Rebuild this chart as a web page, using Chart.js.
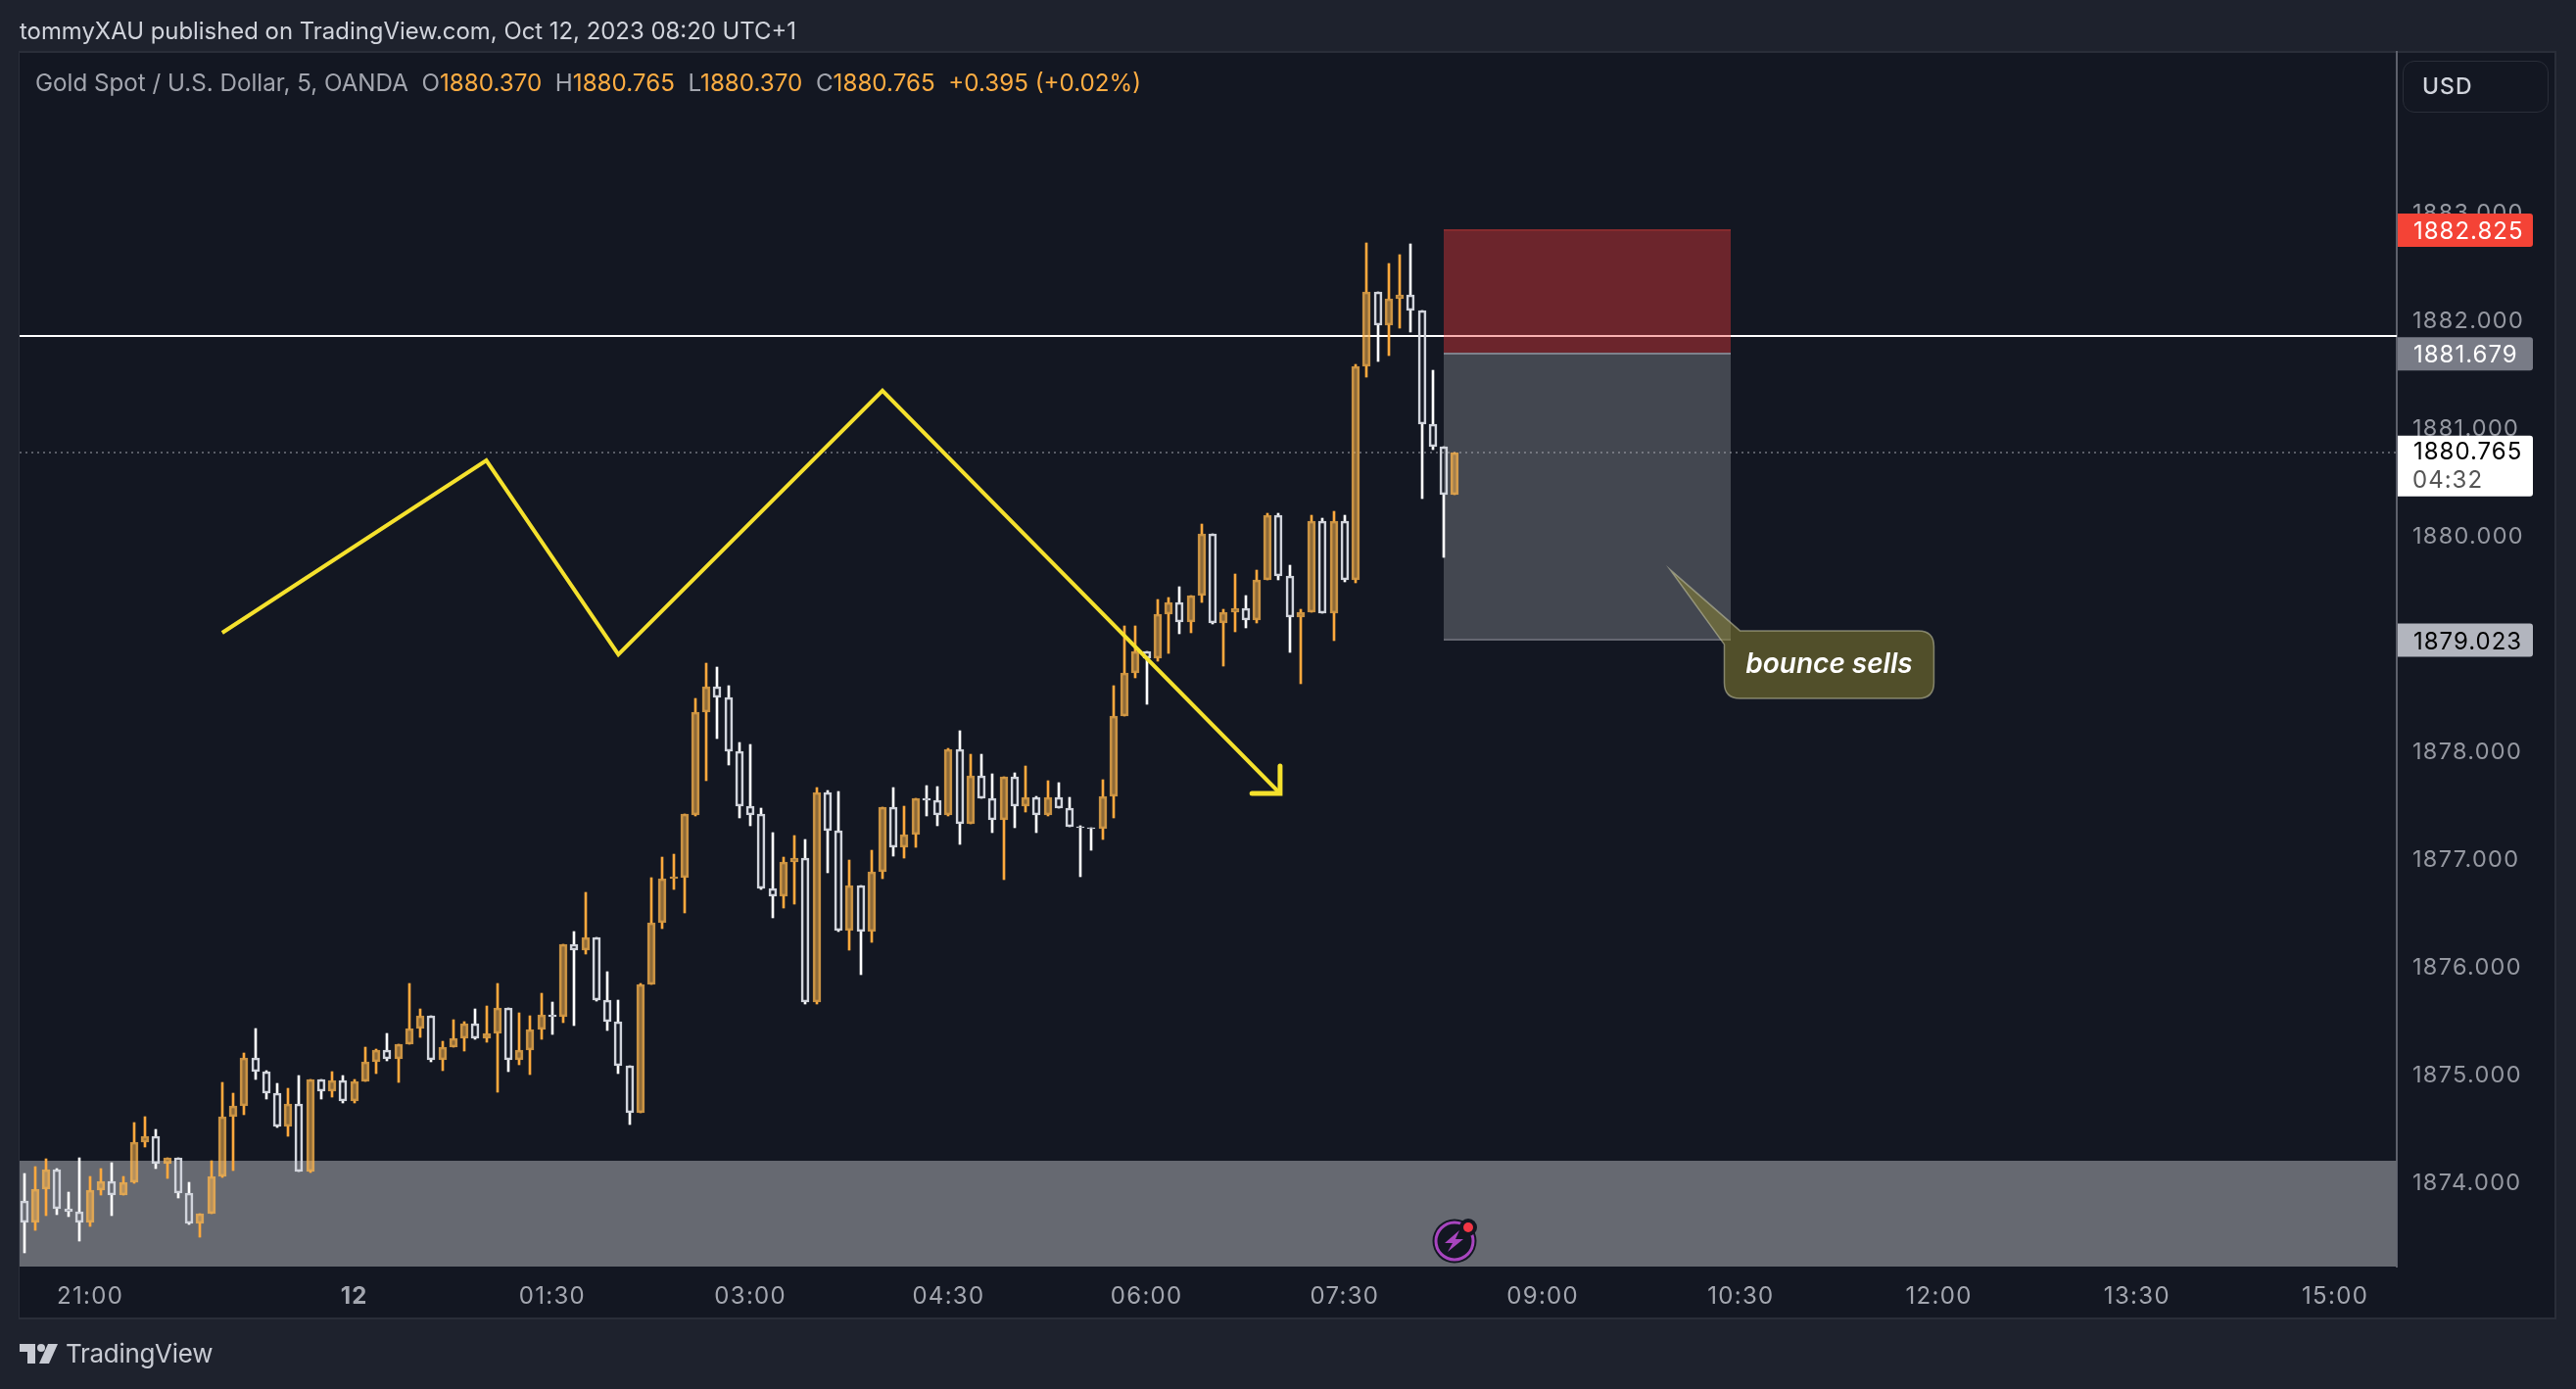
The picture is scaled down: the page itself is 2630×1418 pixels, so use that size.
<!DOCTYPE html>
<html>
<head>
<meta charset="utf-8">
<title>Gold Spot / U.S. Dollar</title>
<script src="https://cdn.jsdelivr.net/npm/chart.js@4"></script>
<style>
	html, body { margin: 0; width: 2630px; height: 1418px; background: #1e222d; overflow: hidden; font-family: Inter, sans-serif; }
	#panel { position: absolute; left: 19px; top: 52px; width: 2588px; height: 1291px; background: #131722; border: 2px solid #2a2e39; border-left-width: 1px; }
	#chart { position: absolute; left: 0; top: 0; }
	.txt { position: absolute; white-space: pre; }
	#title { left: 20px; top: 17px; font-size: 23.9px; line-height: 30px; color: #d1d4dc; }
	#legend { left: 36px; top: 70px; font-size: 24.2px; line-height: 30px; color: #a3a6af; }
	#legend b { font-weight: 400; color: #ffad42; }
	#usd { left: 2453px; top: 62px; width: 128px; height: 51px; padding-left: 19px; border: 1px solid #2a2e39; border-radius: 12px; font-size: 23px; letter-spacing: 1px; line-height: 50px; font-weight: 500; color: #d1d4dc; }
	#brand { left: 67px; top: 1365px; font-size: 26px; line-height: 34px; color: #c8cbd3; letter-spacing: -0.3px; }
	svg { position: absolute; }
</style>
</head>
<body>
<div id="panel"></div>
<canvas id="chart" width="2630" height="1418"></canvas>
<div class="txt" id="title">tommyXAU published on TradingView.com, Oct 12, 2023 08:20 UTC+1</div>
<div class="txt" id="legend">Gold Spot / U.S. Dollar, 5, OANDA  O<b>1880.370</b>  H<b>1880.765</b>  L<b>1880.370</b>  C<b>1880.765</b>  <b>+0.395 (+0.02%)</b></div>
<div class="txt" id="usd">USD</div>
<div class="txt" id="brand">TradingView</div>
<svg style="left:20px;top:1372px" width="40" height="21" viewBox="0 0 40 21">
	<path fill="#c8cbd3" d="M0 0H16V20H8V8H0Z"/>
	<circle fill="#c8cbd3" cx="22" cy="4" r="4"/>
	<path fill="#c8cbd3" d="M29 0H39L30 20H20Z"/>
</svg>
<svg style="left:1461px;top:1228px" width="60" height="64" viewBox="0 0 60 64">
	<circle cx="24" cy="39" r="22.5" fill="#131722"/>
	<circle cx="24" cy="39" r="19" fill="none" stroke="#a845bf" stroke-width="3"/>
	<path fill="#a845bf" d="M29 28L14 41H22L17 50L33 37H25Z"/>
	<circle cx="38" cy="25" r="9" fill="#131722"/>
	<circle cx="38" cy="25" r="5" fill="#f23645"/>
</svg>
<script>
const opens = [
	1873.82,1873.62,1873.93,1874.11,1873.75,1873.72,1873.62,1873.92,1874.00,1873.87,
	1873.99,1874.36,1874.42,1874.16,1874.22,1873.89,1873.61,1873.70,1874.05,1874.60,
	1874.70,1875.15,1875.02,1874.82,1874.51,1874.72,1874.09,1874.95,1874.84,1874.94,
	1874.75,1874.93,1875.11,1875.22,1875.14,1875.27,1875.42,1875.54,1875.13,1875.25,
	1875.33,1875.46,1875.33,1875.37,1875.61,1875.13,1875.22,1875.41,1875.55,1875.53,
	1876.20,1876.15,1876.26,1875.68,1875.48,1875.07,1874.64,1875.83,1876.40,1876.81,
	1876.82,1877.40,1878.35,1878.59,1878.49,1877.99,1877.48,1877.41,1876.72,1876.65,
	1876.96,1877.00,1875.66,1877.61,1877.25,1876.33,1876.75,1876.32,1876.87,1877.47,
	1877.10,1877.22,1877.55,1877.54,1877.40,1878.01,1877.32,1877.76,1877.55,1877.35,
	1877.75,1877.48,1877.56,1877.40,1877.56,1877.46,1877.29,1877.28,1877.27,1877.57,
	1878.32,1878.72,1878.92,1878.85,1879.26,1879.37,1879.19,1879.44,1880.01,1879.18,
	1879.28,1879.32,1879.21,1879.58,1880.18,1879.62,1879.24,1879.28,1880.13,1879.27,
	1880.13,1879.58,1881.56,1882.25,1881.94,1882.19,1882.23,1882.08,1881.03,1880.82,1880.37
]
const highs = [
	1874.07,1874.14,1874.21,1874.12,1873.90,1874.22,1874.05,1874.12,1874.17,1874.05,
	1874.55,1874.60,1874.48,1874.22,1874.22,1873.99,1873.70,1874.19,1874.92,1874.82,
	1875.19,1875.42,1875.03,1874.91,1874.86,1874.98,1874.95,1874.95,1875.02,1874.98,
	1874.95,1875.25,1875.23,1875.37,1875.27,1875.84,1875.60,1875.54,1875.30,1875.50,
	1875.48,1875.60,1875.63,1875.84,1875.61,1875.56,1875.54,1875.75,1875.66,1876.20,
	1876.32,1876.68,1876.26,1875.95,1875.68,1875.07,1875.84,1876.82,1877.01,1877.04,
	1877.41,1878.48,1878.81,1878.77,1878.60,1878.07,1878.05,1877.46,1877.24,1877.01,
	1877.21,1877.17,1877.65,1877.63,1877.62,1876.98,1876.75,1877.07,1877.47,1877.65,
	1877.48,1877.55,1877.67,1877.66,1878.02,1878.18,1877.96,1877.96,1877.78,1877.75,
	1877.79,1877.85,1877.57,1877.72,1877.70,1877.56,1877.30,1877.28,1877.73,1878.60,
	1879.15,1879.15,1878.92,1879.40,1879.42,1879.52,1879.44,1880.10,1880.01,1879.31,
	1879.64,1879.44,1879.67,1880.20,1880.20,1879.72,1879.31,1880.18,1880.15,1880.22,
	1880.18,1881.58,1882.71,1882.25,1882.52,1882.60,1882.70,1882.08,1881.53,1880.82,1880.765
]
const lows = [
	1873.34,1873.55,1873.68,1873.69,1873.67,1873.45,1873.58,1873.87,1873.68,1873.87,
	1873.98,1874.32,1874.12,1874.03,1873.85,1873.60,1873.48,1873.70,1874.04,1874.10,
	1874.62,1874.95,1874.76,1874.50,1874.42,1874.09,1874.08,1874.76,1874.78,1874.73,
	1874.73,1874.93,1875.00,1875.12,1874.92,1875.27,1875.34,1875.11,1875.03,1875.25,
	1875.21,1875.32,1875.29,1874.83,1875.02,1875.08,1874.99,1875.32,1875.36,1875.47,
	1875.45,1876.11,1875.67,1875.40,1875.00,1874.53,1874.64,1875.83,1876.35,1876.71,
	1876.49,1877.39,1877.72,1878.11,1877.86,1877.37,1877.30,1876.71,1876.45,1876.54,
	1876.57,1875.65,1875.65,1876.86,1876.32,1876.15,1875.92,1876.22,1876.81,1877.02,
	1877.00,1877.10,1877.39,1877.30,1877.39,1877.13,1877.32,1877.55,1877.24,1876.80,
	1877.28,1877.43,1877.24,1877.39,1877.46,1877.29,1876.83,1877.07,1877.17,1877.37,
	1878.32,1878.67,1878.43,1878.83,1878.90,1879.08,1879.09,1879.37,1879.17,1878.78,
	1879.10,1879.14,1879.18,1879.58,1879.58,1878.91,1878.62,1879.28,1879.27,1879.02,
	1879.56,1879.55,1881.46,1881.61,1881.66,1881.92,1881.88,1880.34,1880.79,1879.79,1880.37
]
const closes = [
	1873.62,1873.93,1874.11,1873.75,1873.72,1873.62,1873.92,1874.00,1873.87,1873.99,
	1874.36,1874.42,1874.16,1874.22,1873.89,1873.61,1873.70,1874.05,1874.60,1874.70,
	1875.15,1875.02,1874.82,1874.51,1874.72,1874.09,1874.95,1874.84,1874.94,1874.75,
	1874.93,1875.11,1875.22,1875.14,1875.27,1875.42,1875.54,1875.13,1875.25,1875.33,
	1875.46,1875.33,1875.37,1875.61,1875.13,1875.22,1875.41,1875.55,1875.53,1876.20,
	1876.15,1876.26,1875.68,1875.48,1875.07,1874.64,1875.83,1876.40,1876.81,1876.83,
	1877.41,1878.35,1878.59,1878.49,1877.99,1877.48,1877.40,1876.72,1876.65,1876.96,
	1877.00,1875.66,1877.61,1877.25,1876.33,1876.75,1876.32,1876.87,1877.47,1877.10,
	1877.22,1877.55,1877.54,1877.40,1878.01,1877.32,1877.76,1877.55,1877.35,1877.75,
	1877.48,1877.56,1877.40,1877.56,1877.46,1877.29,1877.28,1877.27,1877.57,1878.32,
	1878.72,1878.92,1878.85,1879.26,1879.37,1879.19,1879.44,1880.01,1879.18,1879.28,
	1879.32,1879.21,1879.58,1880.18,1879.62,1879.24,1879.28,1880.13,1879.27,1880.13,
	1879.58,1881.56,1882.25,1881.94,1882.19,1882.23,1882.08,1881.03,1880.82,1880.37,1880.765
]

// x axis counts bars, 12 labels every 18 bars apart from the session gap
const timeTickBars = [6, 30, 48, 66, 84, 102, 120, 138, 156, 174, 192, 210]
const timeTickLabels = ['21:00', '12', '01:30', '03:00', '04:30', '06:00', '07:30', '09:00', '10:30', '12:00', '13:30', '15:00']
const priceTicks = [1874, 1875, 1876, 1877, 1878, 1879, 1880, 1881, 1882, 1883]

const pathBars = [18, 42, 54, 78, 114.13]
const pathPrices = [1879.09, 1880.69, 1878.89, 1881.336, 1877.6]
const arrowBars = [114.13, 114.13, 111.57]
const arrowPrices = [1877.855, 1877.6, 1877.6]

const supportZone = [1873.21, 1874.19]
const levelPrice = 1881.845
const lastPrice = 1880.765
const stopPrice = 1882.825
const entryPrice = 1881.679
const targetPrice = 1879.023
const positionBars = [128.96, 155.07]
const calloutTipBar = 149.6
const calloutTipPrice = 1879.673
const calloutText = 'bounce sells'
const countdown = '04:32'

const ORANGE = '#ffa93d'
const isUp = i => closes[i] >= opens[i]
const bars = opens.map((_, i) => i)

const wickUp = bars.map(i => ({ x: i, y: [Math.max(opens[i], closes[i]), highs[i]] }))
const wickDown = bars.map(i => ({ x: i, y: [lows[i], Math.min(opens[i], closes[i])] }))
const bodies = bars.map(i => ({ x: i, y: [Math.min(opens[i], closes[i]), Math.max(opens[i], closes[i])] }))
const wickColors = bars.map(i => (isUp(i) ? ORANGE : '#ffffff'))

const drawings = {
	id: 'drawings',
	beforeDraw(chart) {
		// axis digits are set wider in the original
		chart.ctx.letterSpacing = '1.3px'
	},
	beforeDatasetDraw(chart, args) {
		// keep candles on whole pixels so they stay crisp
		if (args.meta.type !== 'bar') return
		args.meta.data.forEach(el => {
			el.x = Math.round(el.x)
			el.y = Math.round(el.y)
			el.base = Math.round(el.base)
		})
	},
	beforeDatasetsDraw(chart) {
		const { ctx, chartArea: a, scales: { x, y } } = chart
		ctx.save()

		// grey zone at the bottom
		ctx.fillStyle = '#666971'
		ctx.fillRect(a.left, Math.round(y.getPixelForValue(supportZone[1])), a.width, a.bottom - Math.round(y.getPixelForValue(supportZone[1])))

		// white level
		ctx.fillStyle = '#ffffff'
		ctx.fillRect(a.left, Math.round(y.getPixelForValue(levelPrice)) - 1, a.width, 2)

		// last price dots
		ctx.strokeStyle = 'rgba(149,152,161,0.55)'
		ctx.lineWidth = 2
		ctx.setLineDash([2, 4])
		ctx.beginPath()
		ctx.moveTo(a.left, Math.round(y.getPixelForValue(lastPrice)))
		ctx.lineTo(a.right, Math.round(y.getPixelForValue(lastPrice)))
		ctx.stroke()
		ctx.setLineDash([])

		// short position box
		const bx = Math.round(x.getPixelForValue(positionBars[0]))
		const bw = Math.round(x.getPixelForValue(positionBars[1])) - bx
		const yStop = Math.round(y.getPixelForValue(stopPrice))
		const yEntry = Math.round(y.getPixelForValue(entryPrice))
		const yTarget = Math.round(y.getPixelForValue(targetPrice))
		ctx.fillStyle = 'rgba(242,60,60,0.4)'
		ctx.fillRect(bx, yStop, bw, yEntry - yStop)
		ctx.fillStyle = 'rgba(178,181,190,0.3)'
		ctx.fillRect(bx, yEntry, bw, yTarget - yEntry)
		ctx.fillStyle = '#852a2e'
		ctx.fillRect(bx, yStop - 1, bw, 2)
		ctx.fillStyle = '#7f818c'
		ctx.fillRect(bx, yEntry - 1, bw, 2)
		ctx.fillStyle = '#646670'
		ctx.fillRect(bx, yTarget - 1, bw, 2)
		ctx.restore()
	},
	afterDraw(chart) {
		const { ctx, chartArea: a, scales: { x, y } } = chart
		ctx.save()

		// callout
		const tipX = x.getPixelForValue(calloutTipBar)
		const tipY = y.getPixelForValue(calloutTipPrice)
		const l = tipX + 55, t = tipY + 62, r = l + 214, b = t + 69, rad = 16
		ctx.beginPath()
		ctx.moveTo(tipX, tipY)
		ctx.lineTo(l + 16, t)
		ctx.lineTo(r - rad, t)
		ctx.quadraticCurveTo(r, t, r, t + rad)
		ctx.lineTo(r, b - rad)
		ctx.quadraticCurveTo(r, b, r - rad, b)
		ctx.lineTo(l + rad, b)
		ctx.quadraticCurveTo(l, b, l, b - rad)
		ctx.lineTo(l, t + 14)
		ctx.closePath()
		ctx.fillStyle = 'rgba(143,135,50,0.5)'
		ctx.fill()
		ctx.strokeStyle = 'rgba(200,200,170,0.55)'
		ctx.lineWidth = 1.5
		ctx.stroke()
		ctx.letterSpacing = '0px'
		ctx.fillStyle = '#ffffff'
		ctx.font = 'italic 600 28px Inter'
		ctx.textAlign = 'center'
		ctx.textBaseline = 'middle'
		ctx.fillText(calloutText, (l + r) / 2, (t + b) / 2)

		// price tags on the axis
		ctx.letterSpacing = '1px'
		const tagLeft = a.right + 1
		const tagWidth = 138
		const tag = (price, fill, color) => {
			const cy = y.getPixelForValue(price)
			ctx.fillStyle = fill
			ctx.beginPath()
			ctx.roundRect(tagLeft, cy - 17, tagWidth, 34, [0, 3, 3, 0])
			ctx.fill()
			ctx.fillStyle = color
			ctx.font = '24px Inter'
			ctx.textAlign = 'left'
			ctx.fillText(price.toFixed(3), 2464, cy + 2)
		}
		tag(stopPrice, '#f44336', '#ffffff')
		tag(entryPrice, '#787b86', '#ffffff')
		tag(targetPrice, '#b2b5be', '#000000')

		const cy = y.getPixelForValue(lastPrice)
		ctx.fillStyle = '#ffffff'
		ctx.beginPath()
		ctx.roundRect(tagLeft, cy - 17, tagWidth, 62, [0, 3, 3, 0])
		ctx.fill()
		ctx.fillStyle = '#000000'
		ctx.fillText(lastPrice.toFixed(3), 2464, cy)
		ctx.fillStyle = '#555555'
		ctx.fillText(countdown, 2463, cy + 29)
		ctx.restore()
	},
}

new Chart(document.getElementById('chart'), {
	type: 'bar',
	plugins: [drawings],
	data: {
		datasets: [
			{ type: 'line', data: pathBars.map((b, i) => ({ x: b, y: pathPrices[i] })), borderColor: '#f5e12d', borderWidth: 4, pointRadius: 0, tension: 0, order: 0 },
			{ type: 'line', data: arrowBars.map((b, i) => ({ x: b, y: arrowPrices[i] })), borderColor: '#f5e12d', borderWidth: 5, pointRadius: 0, tension: 0, borderCapStyle: 'round', order: 0 },
			{ data: bodies, barThickness: 8, borderWidth: 2, borderSkipped: false, order: 1,
				backgroundColor: bars.map(i => (isUp(i) ? 'rgba(255,183,77,0.52)' : 'rgba(0,0,0,0)')),
				borderColor: bars.map(i => (isUp(i) ? 'rgba(255,183,77,0.76)' : '#d1d4dc')) },
			{ data: wickUp, barThickness: 2, borderWidth: 0, backgroundColor: wickColors, order: 2 },
			{ data: wickDown, barThickness: 2, borderWidth: 0, backgroundColor: wickColors, order: 2 },
		],
	},
	options: {
		responsive: false,
		animation: false,
		devicePixelRatio: 1,
		layout: { padding: { left: 20, top: 53, right: 20, bottom: 71 } },
		plugins: { legend: { display: false }, tooltip: { enabled: false } },
		datasets: { bar: { grouped: false } },
		scales: {
			x: {
				type: 'linear',
				offset: false,
				min: -0.41,
				max: 215.6,
				grid: { display: false, drawTicks: false },
				border: { display: false },
				afterBuildTicks: s => { s.ticks = timeTickBars.map(v => ({ value: v })) },
				afterFit: s => { s.height = 54 },
				ticks: {
					autoSkip: false,
					maxRotation: 0,
					padding: 16,
					color: '#a3a6af',
					font: ctx => ({ family: 'Inter', size: 24, weight: ctx.tick && ctx.tick.value === 30 ? '700' : '400' }),
					callback: v => timeTickLabels[timeTickBars.indexOf(v)],
				},
			},
			y: {
				position: 'right',
				min: 1873.21,
				max: 1884.48,
				grid: { display: false, drawTicks: false },
				border: { display: true, color: '#5d606b', width: 2 },
				afterBuildTicks: s => { s.ticks = priceTicks.map(v => ({ value: v })) },
				afterFit: s => { s.width = 163 },
				ticks: {
					padding: 16,
					labelOffset: 2,
					color: '#9598a1',
					font: { family: 'Inter', size: 23.5 },
					callback: v => v.toFixed(3),
				},
			},
		},
	},
})
</script>
</body>
</html>
